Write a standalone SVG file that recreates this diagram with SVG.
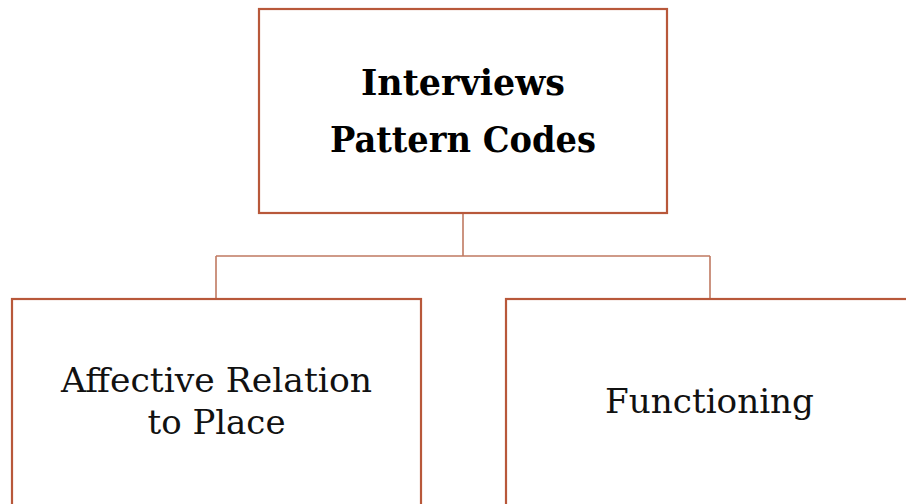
<svg xmlns="http://www.w3.org/2000/svg" width="906" height="504" viewBox="0 0 906 504">
  <style>
    .box { fill: #ffffff; stroke: #b8583a; stroke-width: 2.2; }
    .link { fill: none; stroke: #c07a62; stroke-width: 1.6; }
    .title { font-family: "DejaVu Serif", "Liberation Serif", serif; font-weight: bold; font-size: 35px; fill: #000; text-anchor: middle; }
    .label { font-family: "DejaVu Serif", "Liberation Serif", serif; font-size: 34px; fill: #111; text-anchor: middle; }
  </style>
  <rect width="906" height="504" fill="#ffffff"/>

  <!-- connectors from the root to the two branches -->
  <g id="connectors">
    <path class="link" d="M463,213 V256 M216,256 H710 M216,256 V299 M710,256 V299"/>
  </g>

  <g id="node-root">
    <rect class="box" x="259" y="9" width="408" height="204"/>
    <text class="title" x="463" y="95" textLength="204" lengthAdjust="spacingAndGlyphs">Interviews</text>
    <text class="title" x="463" y="152" textLength="266" lengthAdjust="spacingAndGlyphs">Pattern Codes</text>
  </g>

  <g id="node-affective">
    <rect class="box" x="12" y="299" width="409" height="215"/>
    <text class="label" x="216.5" y="392" textLength="311" lengthAdjust="spacingAndGlyphs">Affective Relation</text>
    <text class="label" x="216.5" y="434" textLength="138" lengthAdjust="spacingAndGlyphs">to Place</text>
  </g>

  <g id="node-functioning">
    <rect class="box" x="506" y="299" width="410" height="215"/>
    <text class="label" x="709.5" y="413" textLength="209" lengthAdjust="spacingAndGlyphs">Functioning</text>
  </g>
</svg>
